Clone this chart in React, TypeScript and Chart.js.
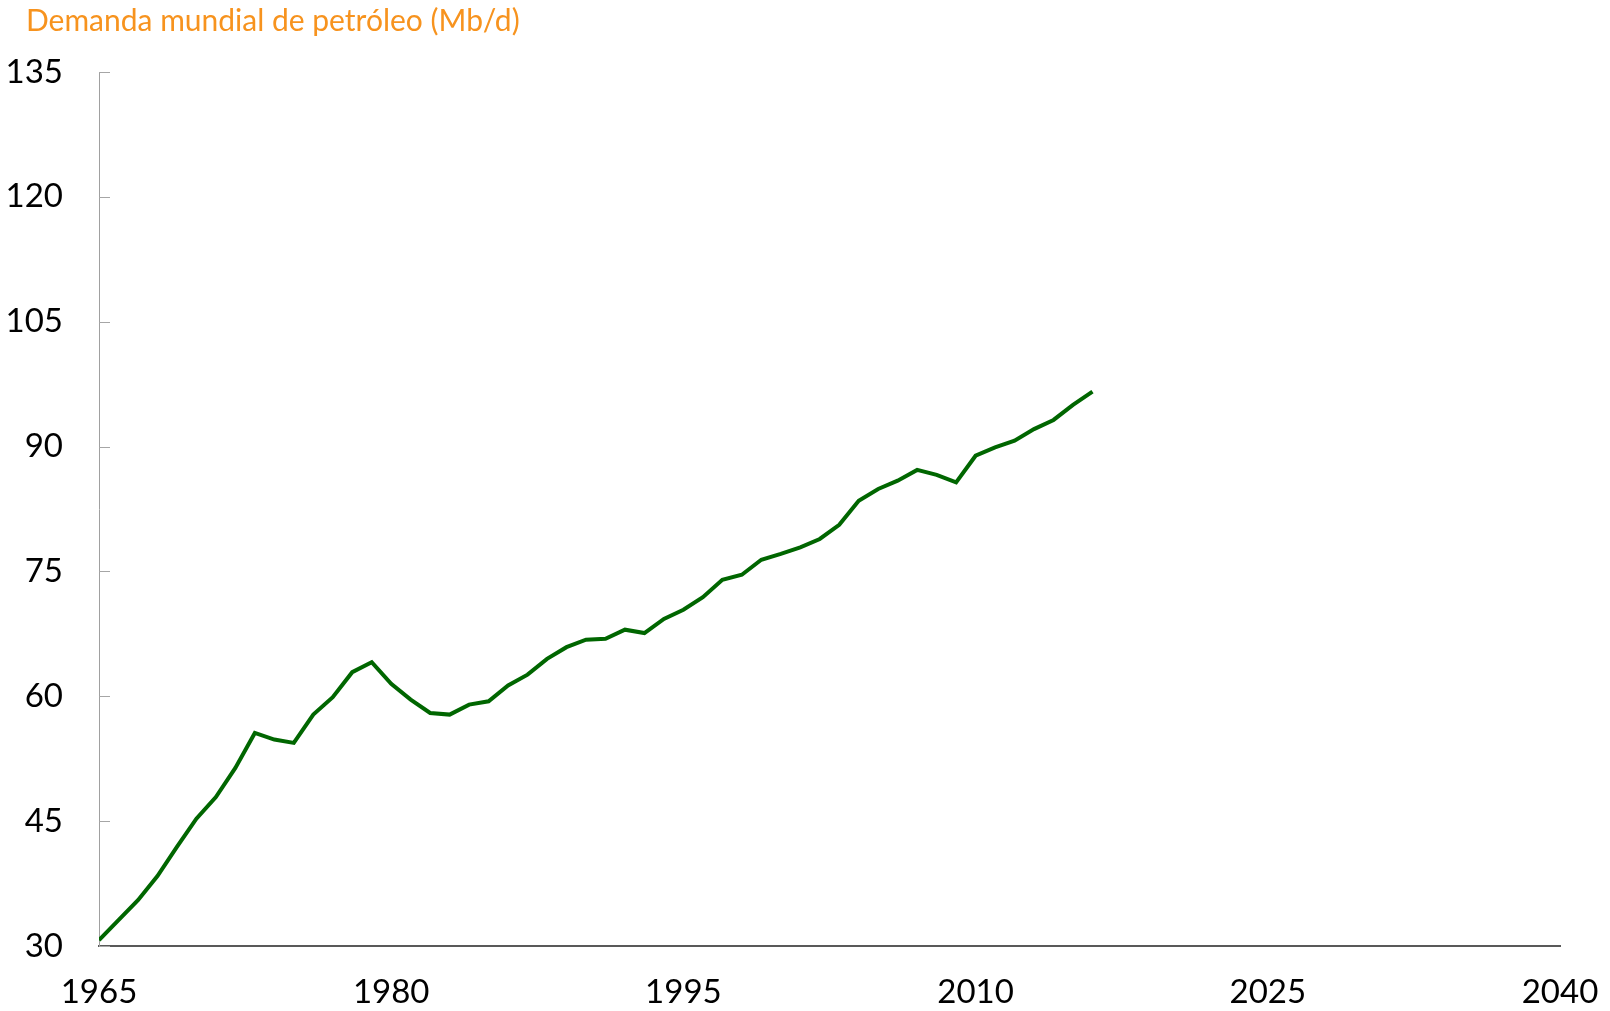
import React, { useEffect, useRef } from "react";
import { Chart, registerables } from "chart.js";

Chart.register(...registerables);

const years: number[] = [
  1965, 1966, 1967, 1968, 1969, 1970, 1971, 1972, 1973, 1974, 1975, 1976, 1977, 1978, 1979,
  1980, 1981, 1982, 1983, 1984, 1985, 1986, 1987, 1988, 1989, 1990, 1991, 1992, 1993, 1994,
  1995, 1996, 1997, 1998, 1999, 2000, 2001, 2002, 2003, 2004, 2005, 2006, 2007, 2008, 2009,
  2010, 2011, 2012, 2013, 2014, 2015, 2016,
];

const demand: number[] = [
  30.7, 33.1, 35.5, 38.4, 41.9, 45.3, 47.9, 51.4, 55.6, 54.8, 54.4, 57.8, 59.9, 62.9, 64.1,
  61.5, 59.6, 58.0, 57.8, 59.0, 59.4, 61.3, 62.6, 64.5, 65.9, 66.8, 66.9, 68.0, 67.6, 69.3,
  70.4, 71.9, 74.0, 74.6, 76.4, 77.1, 77.9, 78.9, 80.6, 83.5, 84.9, 85.9, 87.2, 86.6, 85.7,
  88.9, 89.9, 90.7, 92.1, 93.2, 95.0, 96.6,
];

const xTicks: number[] = [1965, 1980, 1995, 2010, 2025, 2040];
const yTicks: number[] = [30, 45, 60, 75, 90, 105, 120, 135];

const titleText = "Demanda mundial de petróleo (Mb/d)";

const FONT = "Lato, 'Open Sans', sans-serif";

const innerTicks = {
  id: "innerTicks",
  afterDraw(chart: any) {
    const { ctx, chartArea, scales } = chart;
    const y = scales.y;
    ctx.save();
    ctx.strokeStyle = "#a6a6a6";
    ctx.lineWidth = 1;
    yTicks.forEach((v) => {
      const py = Math.round(y.getPixelForValue(v)) + 0.5;
      ctx.beginPath();
      ctx.moveTo(chartArea.left, py);
      ctx.lineTo(chartArea.left + 11, py);
      ctx.stroke();
    });
    ctx.fillStyle = "#f7931e";
    ctx.font = `normal 30px ${FONT}`;
    ctx.textAlign = "left";
    ctx.textBaseline = "alphabetic";
    ctx.fillText(titleText, 26, 31);
    ctx.restore();
  },
};

export default function App() {
  const ref = useRef<HTMLCanvasElement | null>(null);

  useEffect(() => {
    if (!ref.current) return;
    const chart = new Chart(ref.current, {
      type: "line",
      data: {
        datasets: [
          {
            label: "Demanda",
            data: years.map((yr, i) => ({ x: yr, y: demand[i] })),
            borderColor: "#006600",
            backgroundColor: "#006600",
            borderWidth: 4,
            pointRadius: 0,
            tension: 0,
            fill: false,
          },
        ],
      },
      options: {
        responsive: false,
        animation: false,
        devicePixelRatio: 1,
        layout: { padding: { left: 0, right: 50, top: 72, bottom: 0 } },
        plugins: {
          legend: { display: false },
          tooltip: { enabled: false },
          title: { display: false },
        },
        scales: {
          x: {
            type: "linear",
            min: 1965,
            max: 2040,
            afterBuildTicks: (s: any) => {
              s.ticks = xTicks.map((v) => ({ value: v }));
            },
            ticks: {
              callback: (v: any) => String(v),
              color: "#000",
              font: { family: FONT, size: 33 },
              padding: 27,
              maxRotation: 0,
              autoSkip: false,
            },
            grid: { display: false, drawTicks: false },
            border: { display: true, color: "#595959", width: 2 },
            afterFit: (s: any) => {
              s.height = 1011 - 946;
              s.paddingLeft = 0;
              s.paddingRight = 0;
            },
          },
          y: {
            type: "linear",
            min: 30,
            max: 135,
            afterBuildTicks: (s: any) => {
              s.ticks = yTicks.map((v) => ({ value: v }));
            },
            ticks: {
              callback: (v: any) => String(v),
              color: "#000",
              font: { family: FONT, size: 33 },
              padding: 36,
              autoSkip: false,
            },
            grid: { display: false, drawTicks: false },
            border: { display: true, color: "#a0a0a0", width: 1 },
            afterFit: (s: any) => {
              s.width = 99;
              s.paddingTop = 0;
              s.paddingBottom = 0;
            },
          },
        },
      },
      plugins: [innerTicks],
    });
    return () => chart.destroy();
  }, []);

  return (
    <div style={{ position: "absolute", left: 0, top: 0, width: 1610, height: 1011, background: "#fff" }}>
      <canvas ref={ref} width={1610} height={1011} style={{ display: "block" }} />
    </div>
  );
}
